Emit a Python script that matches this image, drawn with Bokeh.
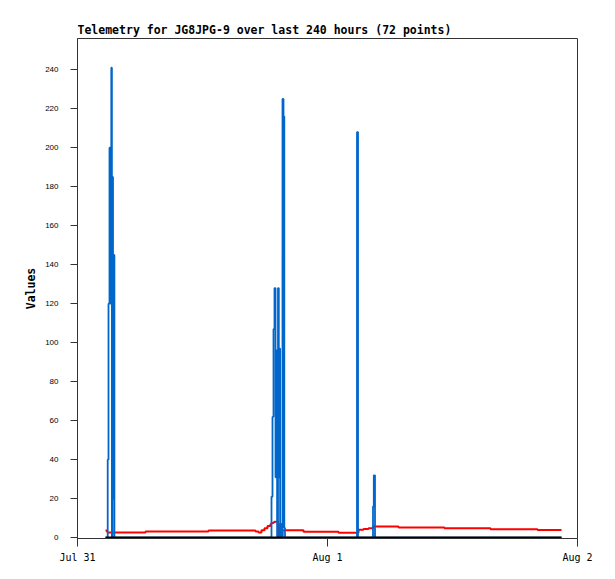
from bokeh.plotting import figure
from bokeh.models import FixedTicker, Range1d
from bokeh.embed import file_html
from bokeh.resources import INLINE

# ---- data (hours since Jul 31 00:00) ----
HOURS = [2.688, 2.832, 2.899, 2.976, 3.072, 3.149, 3.245, 3.302, 3.350, 3.408,
         3.475, 3.542, 6.528, 12.576, 17.088, 17.376, 17.664, 17.952, 18.240,
         18.528, 18.576, 18.624, 18.720, 18.816, 18.912, 19.008, 19.104, 19.162,
         19.248, 19.325, 19.392, 19.450, 19.517, 19.584, 19.680, 19.776, 19.853,
         19.920, 19.968, 21.696, 25.056, 26.784, 26.832, 26.928, 26.976, 27.456,
         27.936, 28.320, 28.368, 28.445, 28.560, 30.816, 35.232, 39.648, 44.160,
         46.464]

BLUE = [0, 0, 40, 120, 200, 120, 241, 0, 185, 20,
        145, 0, 0, 0, 0, 0, 0, 0, 0,
        0, 0, 21, 62, 107, 128, 31, 96, 0,
        128, 31, 97, 0, 6, 0, 225, 216, 5,
        0, 0, 0, 0, 0, 208, 0, 0, 0,
        0, 0, 16, 32, 0, 0, 0, 0, 0,
        0]

RED = [3.7, 3.0, 2.7, 2.7, 2.7, 2.7, 2.7, 2.7, 2.7, 2.7,
       2.7, 2.7, 3.2, 3.7, 3.2, 2.7, 3.8, 4.9, 6.0,
       7.0, 7.3, 7.4, 7.6, 7.9, 8.2, 8.2, 8.2, 8.2,
       5.0, 0.5, 0.5, 7.0, 7.0, 0.5, 3.8, 3.8, 3.8,
       3.8, 3.8, 3.0, 2.6, 2.6, 2.6, 2.6, 4.1, 4.5,
       4.8, 4.8, 5.8, 5.8, 5.8, 5.3, 4.8, 4.3, 3.9,
       3.9]

BLACK = [0] * len(HOURS)

X_TICKS = [0, 24, 48]
X_LABELS = ["Jul 31", "Aug 1", "Aug 2"]
Y_TICKS = [0, 20, 40, 60, 80, 100, 120, 140, 160, 180, 200, 220, 240]

TITLE = "Telemetry for JG8JPG-9 over last 240 hours (72 points)"

FRAME = "#333333"

p = figure(width=600, height=568, output_backend="svg", toolbar_location=None,
           x_range=Range1d(0, 48), y_range=Range1d(-0.4, 256),
           min_border_left=77, min_border_right=23, min_border_top=38,
           min_border_bottom=30, title=TITLE)

p.title.text_font = "DejaVu Sans Mono"
p.title.text_font_style = "bold"
p.title.text_font_size = "11.5px"
p.title.align = "left"
p.title.offset = 0
p.title.standoff = 3
p.title.text_color = "#000000"

p.xgrid.visible = False
p.ygrid.visible = False
p.outline_line_color = FRAME
p.outline_line_width = 1
p.background_fill_color = "white"
p.border_fill_color = "white"

p.step(HOURS, RED, mode="after", line_color="#ff0000", line_width=2)
p.step(HOURS, BLUE, mode="after", line_color="#0066cc", line_width=1.8)
p.step(HOURS, BLACK, mode="after", line_color="#000000", line_width=2.5)

xa = p.xaxis[0]
xa.ticker = FixedTicker(ticks=X_TICKS)
xa.major_label_overrides = {t: l for t, l in zip(X_TICKS, X_LABELS)}
xa.minor_tick_line_color = None
xa.major_tick_in = 0
xa.major_tick_out = 8
xa.major_label_standoff = 5
xa.major_label_text_font = "DejaVu Sans Mono"
xa.major_label_text_font_size = "10px"
xa.major_label_text_color = "#000000"
xa.axis_line_color = FRAME
xa.major_tick_line_color = FRAME

ya = p.yaxis[0]
ya.ticker = FixedTicker(ticks=Y_TICKS)
ya.minor_tick_line_color = None
ya.major_tick_in = 0
ya.major_tick_out = 7
ya.major_label_standoff = 12
ya.major_label_text_font = "Liberation Sans"
ya.major_label_text_font_size = "8px"
ya.major_label_text_color = "#000000"
ya.axis_line_color = FRAME
ya.major_tick_line_color = FRAME
ya.axis_label = "Values"
ya.axis_label_text_font = "DejaVu Sans Mono"
ya.axis_label_text_font_style = "bold"
ya.axis_label_text_font_size = "11.5px"
ya.axis_label_standoff = 4
ya.axis_label_text_color = "#000000"

open("out.html", "w").write(file_html(p, INLINE))
